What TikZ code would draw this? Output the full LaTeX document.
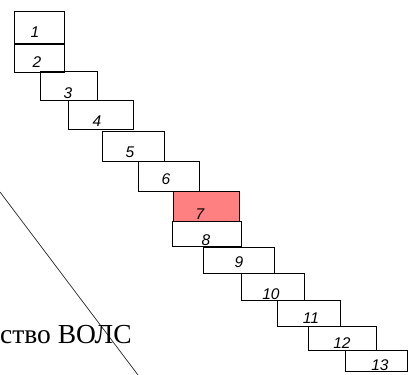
\documentclass[tikz,border=0pt]{standalone}
\usepackage{fontspec}
\setmainfont{Liberation Serif}
\newfontfamily\cellfont{Liberation Sans}
\definecolor{cellred}{HTML}{FF8080}
\begin{document}
\begin{tikzpicture}[x=1pt,y=-1pt,
    cell/.style={draw, line width=1pt, inner sep=0pt},
    num/.style={anchor=base, inner sep=0pt, font=\cellfont\itshape\fontsize{15.5}{15.5}\selectfont}]
  \useasboundingbox (0,0) rectangle (408,375);
  % the cut fibre line and the caption
  \coordinate (top) at (0,192);
  \coordinate (bot) at (138,375);
  \draw[line width=0.7pt, black!85] (top) -- (bot);
  \node[anchor=base west, inner sep=0pt, font=\fontsize{27.5}{27.5}\selectfont] (volc) at (0,343) {ство ВОЛС};
  % the steps
  \node[cell, minimum width=50pt, minimum height=32pt] (c1) at (39,27) {};
  \node[cell, minimum width=50pt, minimum height=28pt] (c2) at (39,58) {};
  \node[cell, minimum width=57pt, minimum height=29pt] (c3) at (68.5,85.5) {};
  \node[cell, minimum width=65pt, minimum height=29pt] (c4) at (100.5,114.5) {};
  \node[cell, minimum width=62pt, minimum height=30pt] (c5) at (133,146) {};
  \node[cell, minimum width=61pt, minimum height=30pt] (c6) at (168.5,176) {};
  \node[cell, fill=cellred, minimum width=66pt, minimum height=30pt] (c7) at (206,206) {};
  \node[cell, minimum width=69pt, minimum height=25pt] (c8) at (206.5,233.5) {};
  \node[cell, minimum width=71pt, minimum height=26pt] (c9) at (238.5,260) {};
  \node[cell, minimum width=63pt, minimum height=27pt] (c10) at (272.5,286.5) {};
  \node[cell, minimum width=63pt, minimum height=26pt] (c11) at (308.5,313) {};
  \node[cell, minimum width=68pt, minimum height=24pt] (c12) at (342,338) {};
  \node[cell, minimum width=62pt, minimum height=21pt] (c13) at (376,360.5) {};
  % numbers
  \draw
    (35,37) node[num] (n1){1}
    (37,67) node[num] (n2){2}
    (68,98) node[num] (n3){3}
    (97,126) node[num] (n4){4}
    (130,157) node[num] (n5){5}
    (166,184) node[num] (n6){6}
    (200,219) node[num] (n7){7}
    (206,245) node[num] (n8){8}
    (239,267) node[num] (n9){9}
    (271,299) node[num] (n10){10}
    (311,323) node[num] (n11){11}
    (342,348) node[num] (n12){12}
    (380,370) node[num] (n13){13};
\end{tikzpicture}
\end{document}
